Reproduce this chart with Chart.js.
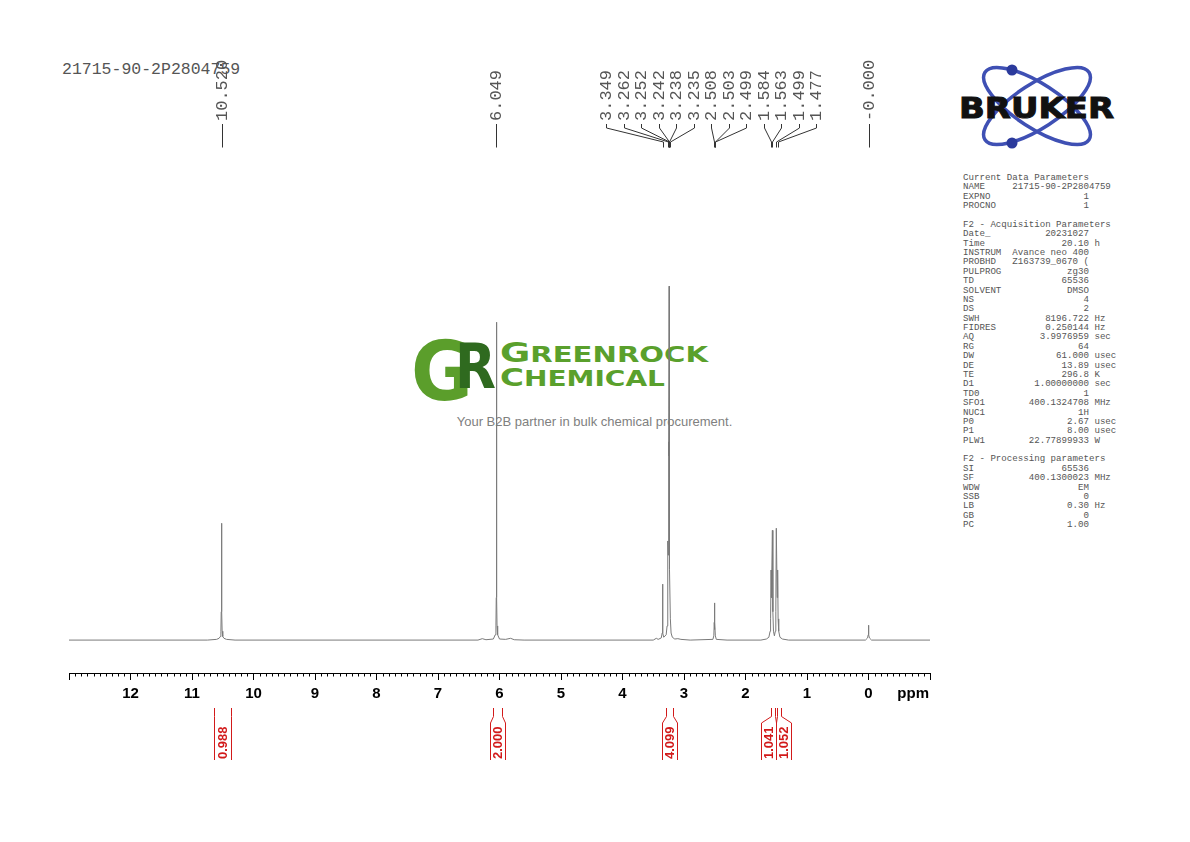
<!DOCTYPE html>
<html>
<head>
<meta charset="utf-8">
<title>21715-90-2P2804759 1H NMR</title>
<script src="https://cdn.jsdelivr.net/npm/chart.js@4.4.1/dist/chart.umd.min.js"></script>
<style>
  html, body { margin: 0; padding: 0; background: #fff; }
  #page { position: relative; width: 1190px; height: 842px; overflow: hidden; }
  #bg, #spectrum { position: absolute; left: 0; top: 0; }
  #params text { white-space: pre; }
</style>
</head>
<body>
<div id="page">
  <svg id="bg" width="1190" height="842" viewBox="0 0 1190 842" xmlns="http://www.w3.org/2000/svg">
    <!-- watermark -->
    <g>
      <text x="411" y="400" font-family="DejaVu Sans" font-weight="bold" font-size="82" fill="#5b9e2b" textLength="62" lengthAdjust="spacingAndGlyphs">G</text>
      <text x="455" y="388" font-family="DejaVu Sans" font-weight="bold" font-size="63" fill="#2f6a1f" textLength="41" lengthAdjust="spacingAndGlyphs">R</text>
      <text x="500" y="362" font-family="DejaVu Sans" font-weight="bold" fill="#5aa02c" textLength="208" lengthAdjust="spacingAndGlyphs"><tspan font-size="26">G</tspan><tspan font-size="20.5">REENROCK</tspan></text>
      <text x="500" y="385.5" font-family="DejaVu Sans" font-weight="bold" fill="#5aa02c" textLength="165" lengthAdjust="spacingAndGlyphs"><tspan font-size="25">C</tspan><tspan font-size="21.5">HEMICAL</tspan></text>
      <text x="594.5" y="425.5" text-anchor="middle" font-family="Liberation Sans" font-size="13" fill="#808080">Your B2B partner in bulk chemical procurement.</text>
    </g>
    <!-- bruker logo -->
    <g>
      <ellipse cx="1037" cy="106" rx="62" ry="22" transform="rotate(33 1037 106)" fill="none" stroke="#3f50b4" stroke-width="3.5"/>
      <ellipse cx="1037" cy="106" rx="62" ry="22" transform="rotate(-33 1037 106)" fill="none" stroke="#3f50b4" stroke-width="3.5"/>
      <circle cx="1012" cy="70" r="5.5" fill="#2b3a9c"/>
      <circle cx="1012" cy="143" r="5.5" fill="#2b3a9c"/>
      <text x="959" y="118" font-family="DejaVu Sans" font-weight="bold" font-size="29" fill="#111" stroke="#111" stroke-width="1" textLength="155" lengthAdjust="spacingAndGlyphs">BRUKER</text>
    </g>
    <text x="62" y="73.5" font-family="Liberation Mono" font-size="16.5" fill="#555">21715-90-2P2804759</text>
    <g id="params" font-family="Liberation Mono" font-size="9.15" fill="#555"></g>
  </svg>
  <canvas id="spectrum" width="1190" height="842"></canvas>
</div>
<script>
// spectrum trace, ppm and relative intensity (tallest line = 100)
var specPpm = [13.0, 10.75, 10.60, 10.56, 10.54, 10.530, 10.525, 10.520, 10.515, 10.510, 10.50, 10.48, 10.44, 10.30,
  6.35, 6.28, 6.22, 6.10, 6.07, 6.058, 6.053, 6.049, 6.045, 6.040, 6.03, 6.00, 5.90, 5.82, 5.76, 5.60,
  3.50, 3.45, 3.42, 3.37, 3.355, 3.349, 3.343, 3.33, 3.29, 3.275, 3.266, 3.262, 3.257, 3.252, 3.247, 3.242,
  3.240, 3.238, 3.236, 3.235, 3.230, 3.222, 3.21, 3.19, 3.15, 3.10, 3.05, 2.90,
  2.53, 2.515, 2.508, 2.505, 2.503, 2.501, 2.499, 2.49, 2.475, 2.30,
  1.75, 1.66, 1.62, 1.60, 1.592, 1.584, 1.578, 1.563, 1.555, 1.545, 1.530, 1.515, 1.507, 1.499, 1.485, 1.477,
  1.470, 1.460, 1.44, 1.40, 1.30,
  0.05, 0.015, 0.005, 0.000, -0.005, -0.015, -0.05, -1.0];
var specInt = [0, 0, 0.2, 0.5, 1.0, 2.5, 8, 33, 8, 2.5, 1.0, 0.5, 0.2, 0,
  0, 0.4, 0.1, 0.3, 1.5, 4, 12, 89.8, 12, 4, 1.5, 0.3, 0.2, 0.5, 0.1, 0,
  0, 0.5, 0.2, 0.6, 2, 15.8, 2, 0.8, 1.5, 4, 10, 28, 24, 56, 52, 100,
  70, 74, 55, 58, 20, 6, 2, 0.8, 0.3, 0.4, 0.2, 0,
  0.2, 1.2, 5, 3, 10.5, 3, 5, 1.2, 0.2, 0,
  0, 0.3, 0.8, 2.5, 6, 19.8, 12, 31, 8, 2.5, 1.2, 2.5, 8, 31.6, 12, 19.8,
  6, 2.5, 0.8, 0.3, 0,
  0, 0.6, 1.5, 4.2, 1.5, 0.6, 0, 0];

// peak picking labels
var peakLabels = ['10.520', '6.049', '3.349', '3.262', '3.252', '3.242', '3.238', '3.235',
  '2.508', '2.503', '2.499', '1.584', '1.563', '1.499', '1.477', '-0.000'];

// integrals: region start, region end (ppm), value
var integralFrom = [10.645, 6.105, 3.285, 1.585, 1.488];
var integralTo = [10.362, 5.958, 3.182, 1.528, 1.423];
var integralValues = ['0.988', '2.000', '4.099', '1.041', '1.052'];

// axis
var axisMin = -1;
var axisMax = 13;

// acquisition / processing parameters
var paramNames = ['Current Data Parameters', 'NAME', 'EXPNO', 'PROCNO', '',
  'F2 - Acquisition Parameters', 'Date_', 'Time', 'INSTRUM', 'PROBHD', 'PULPROG', 'TD', 'SOLVENT', 'NS', 'DS',
  'SWH', 'FIDRES', 'AQ', 'RG', 'DW', 'DE', 'TE', 'D1', 'TD0', 'SFO1', 'NUC1', 'P0', 'P1', 'PLW1', '',
  'F2 - Processing parameters', 'SI', 'SF', 'WDW', 'SSB', 'LB', 'GB', 'PC'];
var paramValues = ['', '21715-90-2P2804759', '1', '1', '',
  '', '20231027', '20.10', 'Avance neo 400', 'Z163739_0670 (', 'zg30', '65536', 'DMSO', '4', '2',
  '8196.722', '0.250144', '3.9976959', '64', '61.000', '13.89', '296.8', '1.00000000', '1', '400.1324708', '1H', '2.67', '8.00', '22.77899933', '',
  '', '65536', '400.1300023', 'EM', '0', '0.30', '0', '1.00'];
var paramUnits = ['', '', '', '', '',
  '', '', 'h', '', '', '', '', '', '', '',
  'Hz', 'Hz', 'sec', '', 'usec', 'usec', 'K', 'sec', '', 'MHz', '', 'usec', 'usec', 'W', '',
  '', '', 'MHz', '', '', 'Hz', '', ''];

(function () {
  var SVGNS = 'http://www.w3.org/2000/svg';

  function buildParams() {
    var g = document.getElementById('params');
    paramNames.forEach(function (name, i) {
      var line = name;
      if (paramValues[i]) {
        var v = paramValues[i];
        line = name + ' '.repeat(Math.max(0, 9 - name.length));
        line += ' '.repeat(Math.max(0, 14 - v.length)) + v;
        if (paramUnits[i]) line += ' ' + paramUnits[i];
      }
      var t = document.createElementNS(SVGNS, 'text');
      t.setAttribute('x', 963);
      t.setAttribute('y', (180 + i * 9.38).toFixed(2));
      t.textContent = line;
      g.appendChild(t);
    });
  }

  // spread label centres so neighbours keep at least `gap` px apart
  function spread(xs, gap) {
    var groups = xs.map(function (x) { return { n: 1, sum: x }; });
    var again = true;
    while (again) {
      again = false;
      for (var g = 0; g < groups.length - 1; g++) {
        var a = groups[g], b = groups[g + 1];
        var aEnd = a.sum / a.n + (a.n - 1) * gap / 2;
        var bStart = b.sum / b.n - (b.n - 1) * gap / 2;
        if (bStart - aEnd < gap) {
          groups.splice(g, 2, { n: a.n + b.n, sum: a.sum + b.sum });
          again = true;
          break;
        }
      }
    }
    var out = [];
    groups.forEach(function (gr) {
      var c = gr.sum / gr.n;
      for (var k = 0; k < gr.n; k++) out.push(c - (gr.n - 1) * gap / 2 + k * gap);
    });
    return out;
  }

  var nmrDecor = {
    id: 'nmrDecor',
    afterDraw: function (chart) {
      var ctx = chart.ctx;
      var xs = chart.scales.x;
      var area = chart.chartArea;
      var i;
      ctx.save();

      // minor ticks every 0.1 ppm
      ctx.strokeStyle = '#000';
      ctx.lineWidth = 1;
      ctx.beginPath();
      for (i = axisMin * 10; i <= axisMax * 10; i++) {
        if (i % 10 === 0) continue;
        var tx = Math.round(xs.getPixelForValue(i / 10)) + 0.5;
        ctx.moveTo(tx, area.bottom);
        ctx.lineTo(tx, area.bottom + 3.5);
      }
      ctx.stroke();

      // unit
      ctx.fillStyle = '#000';
      ctx.font = 'bold 15px "Liberation Sans", Arial, sans-serif';
      ctx.textAlign = 'right';
      ctx.textBaseline = 'middle';
      ctx.fillText('ppm', area.right - 1, area.bottom + 21);

      // peak labels with connectors
      var peakPx = peakLabels.map(function (s) { return xs.getPixelForValue(parseFloat(s)); });
      var labPx = spread(peakPx, 17.5);
      ctx.strokeStyle = '#333';
      ctx.beginPath();
      for (i = 0; i < peakPx.length; i++) {
        var lx = Math.round(labPx[i]) + 0.5, px = Math.round(peakPx[i]) + 0.5;
        ctx.moveTo(lx, 124);
        ctx.lineTo(lx, 128);
        ctx.lineTo(px, 142);
        ctx.lineTo(px, 147.5);
      }
      ctx.stroke();
      ctx.fillStyle = '#555';
      ctx.font = '17px "Liberation Mono", monospace';
      ctx.textAlign = 'left';
      ctx.textBaseline = 'middle';
      for (i = 0; i < peakPx.length; i++) {
        ctx.save();
        ctx.translate(labPx[i] + 0.5, 121);
        ctx.rotate(-Math.PI / 2);
        ctx.fillText(peakLabels[i], 0, 0);
        ctx.restore();
      }

      // integrals
      var red = '#d21a1a';
      var xa = integralFrom.map(function (v) { return xs.getPixelForValue(v); });
      var xb = integralTo.map(function (v) { return xs.getPixelForValue(v); });
      var cen = spread(xa.map(function (a, k) { return (a + xb[k]) / 2; }), 15);
      ctx.strokeStyle = red;
      ctx.beginPath();
      for (i = 0; i < xa.length; i++) {
        var l0 = Math.round(xa[i]) + 0.5, r0 = Math.round(xb[i]) + 0.5;
        var l1 = Math.round(Math.min(xa[i], cen[i] - 7.5)) + 0.5;
        var r1 = Math.round(Math.max(xb[i], cen[i] + 7.5)) + 0.5;
        ctx.moveTo(l0, 708); ctx.lineTo(l0, 716.5); ctx.lineTo(l1, 723); ctx.lineTo(l1, 760);
        ctx.moveTo(r0, 708); ctx.lineTo(r0, 716.5); ctx.lineTo(r1, 723); ctx.lineTo(r1, 760);
      }
      ctx.stroke();
      ctx.fillStyle = red;
      ctx.font = 'bold 13px "Liberation Sans", Arial, sans-serif';
      ctx.textAlign = 'left';
      ctx.textBaseline = 'middle';
      for (i = 0; i < xa.length; i++) {
        ctx.save();
        ctx.translate(cen[i] + 1, 759);
        ctx.rotate(-Math.PI / 2);
        ctx.fillText(integralValues[i], 0, 0);
        ctx.restore();
      }
      ctx.restore();
    }
  };

  function buildChart() {
    var canvas = document.getElementById('spectrum');
    var points = specPpm.map(function (p, k) { return { x: p, y: specInt[k] }; });

    new Chart(canvas.getContext('2d'), {
      type: 'line',
      data: {
        datasets: [{
          data: points,
          borderColor: '#7a7a7a',
          borderWidth: 1,
          pointRadius: 0,
          tension: 0,
          fill: false
        }]
      },
      options: {
        responsive: false,
        animation: false,
        events: [],
        layout: { padding: { left: 69, right: 260, top: 170, bottom: 134 } },
        plugins: {
          legend: { display: false },
          tooltip: { enabled: false }
        },
        scales: {
          x: {
            type: 'linear',
            min: axisMin,
            max: axisMax,
            reverse: true,
            border: { display: true, color: '#000', width: 1 },
            grid: { drawOnChartArea: false, drawTicks: true, tickLength: 7, tickColor: '#000', tickWidth: 1 },
            ticks: {
              stepSize: 1,
              autoSkip: false,
              maxRotation: 0,
              padding: 5,
              color: '#000',
              font: { family: "'Liberation Sans', Arial, sans-serif", weight: 'bold', size: 15 },
              callback: function (v) {
                return (v === axisMin || v === axisMax) ? '' : String(v);
              }
            }
          },
          y: { display: false, min: -9.3, max: 132.8 }
        }
      },
      plugins: [nmrDecor]
    });
  }

  buildParams();
  buildChart();
})();
</script>
</body>
</html>
